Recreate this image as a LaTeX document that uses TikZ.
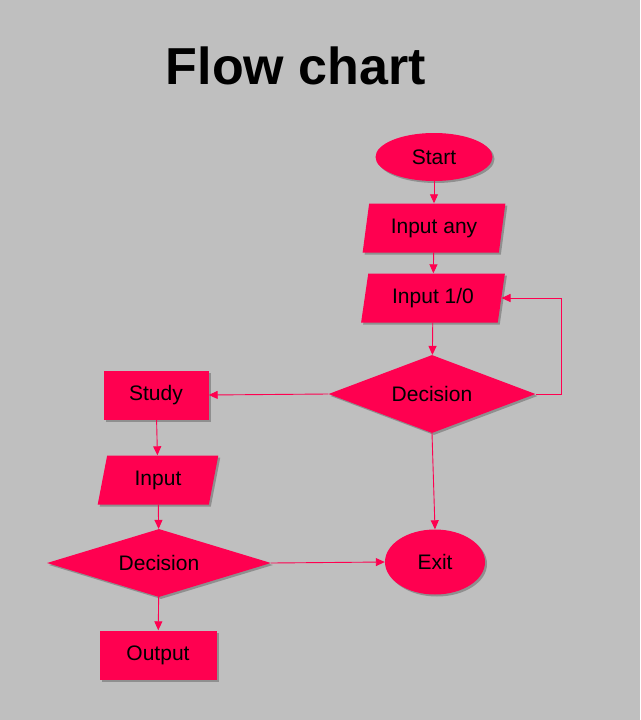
\documentclass[tikz,border=0pt]{standalone}
\usepackage{fontspec}
\setmainfont{Liberation Sans}
\usetikzlibrary{shapes.geometric}
\usetikzlibrary{arrows.meta}
\usetikzlibrary{shadows}
\definecolor{flowred}{HTML}{FF0050}
\definecolor{bggray}{HTML}{BFBFBF}
\tikzset{
  box/.style={fill=flowred,font=\fontsize{21}{24}\selectfont,inner sep=0pt,
    drop shadow={shadow xshift=2pt,shadow yshift=-2pt,fill=black,opacity=0.25}},
  terminal/.style={box,ellipse},
  process/.style={box,rectangle},
  io/.style={box,trapezium,trapezium left angle=77,trapezium right angle=103,
    trapezium stretches=true},
  decision/.style={box,diamond},
  flow/.style={draw=flowred,line width=0.9pt,-{Triangle[length=9pt,width=8pt]}}
}
\begin{document}
\begin{tikzpicture}[x=1pt,y=-1pt]
\fill[bggray] (0,0) rectangle (640,720);
\node[font=\fontsize{52}{60}\selectfont\bfseries] (title) at (296,66) {Flow chart};
% right column
\node[terminal,minimum width=117pt,minimum height=48pt] (start) at (434,157) {Start};
\node[io,minimum width=143pt,minimum height=49pt] (inany) at (434,228) {Input any};
\node[io,minimum width=144pt,minimum height=49pt] (inbit) at (433,298) {Input 1/0};
\node[decision,aspect=2.65,minimum width=207pt,minimum height=78pt] (dec1) at (432,394) {Decision};
\node[terminal,minimum width=100pt,minimum height=65pt] (exit) at (435,562) {Exit};
% left column
\node[process,minimum width=105pt,minimum height=49pt] (study) at (156,395) {Study};
\node[io,minimum width=121pt,minimum height=49pt] (input) at (158,480) {Input};
\node[decision,aspect=3.3,minimum width=224pt,minimum height=68pt] (dec2) at (159,563) {Decision};
\node[process,minimum width=117pt,minimum height=49pt] (output) at (158,655) {Output};
% connectors
\draw[flow] (start) -- (inany);
\draw[flow] (inany) -- (inbit);
\draw[flow] (inbit) -- (dec1);
\draw[flow] (dec1.west) -- (study.east);
\draw[flow] (dec1.east) -- (561,394) |- (inbit.east);
\draw[flow] (dec1.south) -- (exit.north);
\draw[flow] (study) -- (input);
\draw[flow] (input) -- (dec2);
\draw[flow] (dec2) -- (output);
\draw[flow] (dec2.east) -- (exit.west);
\end{tikzpicture}
\end{document}
